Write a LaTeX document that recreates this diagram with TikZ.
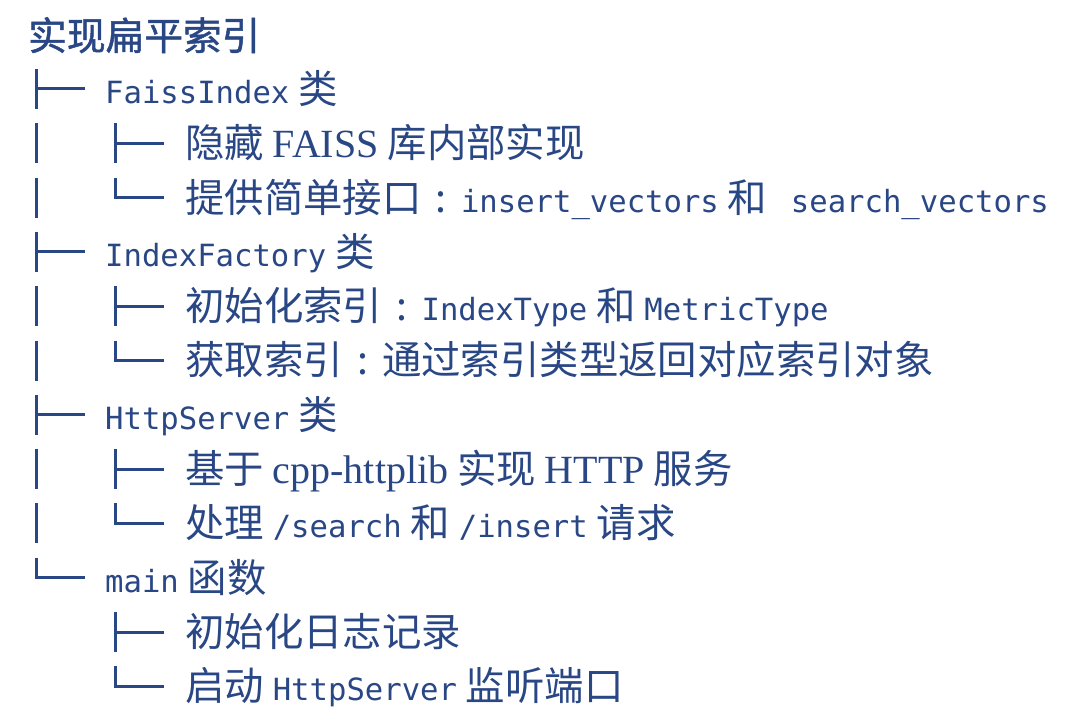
\documentclass[tikz,border=0pt]{standalone}
\usepackage{fontspec}
\setmainfont{Liberation Serif}
\setmonofont{DejaVu Sans Mono}
\newfontfamily\cjk{Noto Sans CJK SC}
\newfontfamily\cjkhead[FakeBold=1.3]{Noto Sans CJK SC}
\definecolor{ink}{RGB}{42,71,133}
\newcommand{\code}[1]{{\fontsize{30.6}{36}\selectfont\ttfamily #1}}
\newcommand{\latin}[1]{{\fontsize{40}{48}\selectfont\rmfamily #1}}
\newcommand{\fwcolon}{\makebox[39.4pt][c]{:}}
\tikzset{
  line/.style={anchor=base west, inner sep=0pt, text=ink, font=\fontsize{39.4}{45}\selectfont\cjk},
  branch/.style={draw=ink, line width=3pt},
}
\begin{document}
\begin{tikzpicture}[x=1pt, y=-1pt]
  \fill[white] (0,0) rectangle (1080,725);
  \useasboundingbox (0,0) rectangle (1080,725);
  \node[line, font=\fontsize{38.7}{45}\selectfont\cjkhead] (title) at (28,50) {实现扁平索引};
  \node[line] (faiss) at (105,103.4) {\code{FaissIndex} 类};
  \node[line] (hide) at (185,157.7) {隐藏 \latin{FAISS} 库内部实现};
  \node[line] (api) at (185,212) {提供简单接口\fwcolon\code{insert\_vectors} 和\hspace{15pt} \code{search\_vectors}};
  \node[line] (factory) at (105,266.3) {\code{IndexFactory} 类};
  \node[line] (init) at (185,320.6) {初始化索引\fwcolon\code{IndexType} 和 \code{MetricType}};
  \node[line] (get) at (185,374.9) {获取索引\fwcolon 通过索引类型返回对应索引对象};
  \node[line] (server) at (105,429.2) {\code{HttpServer} 类};
  \node[line] (httplib) at (185,483.5) {基于 \latin{cpp-httplib} 实现 \latin{HTTP} 服务};
  \node[line] (handle) at (185,537.8) {处理 \code{/search} 和 \code{/insert} 请求};
  \node[line] (main) at (105,592.1) {\code{main} 函数};
  \node[line] (log) at (185,646.4) {初始化日志记录};
  \node[line] (start) at (185,700.7) {启动 \code{HttpServer} 监听端口};
  % tree glyphs
  \foreach \x/\i in {36/1, 115/2, 36/4, 115/5, 36/7, 115/8, 115/11} {
    \pgfmathsetmacro\y{89+54.3*(\i-1)}
    \draw[branch] (\x,\y-20) -- (\x,\y+20) (\x,\y) -- (\x+49,\y);
  }
  \foreach \x/\i in {115/3, 115/6, 115/9, 36/10, 115/12} {
    \pgfmathsetmacro\y{89+54.3*(\i-1)}
    \draw[branch] (\x,\y-20) -- (\x,\y) -- (\x+49,\y);
  }
  \foreach \i in {2, 3, 5, 6, 8, 9} {
    \pgfmathsetmacro\y{89+54.3*(\i-1)}
    \draw[branch] (36,\y-20) -- (36,\y+20);
  }
\end{tikzpicture}
\end{document}
